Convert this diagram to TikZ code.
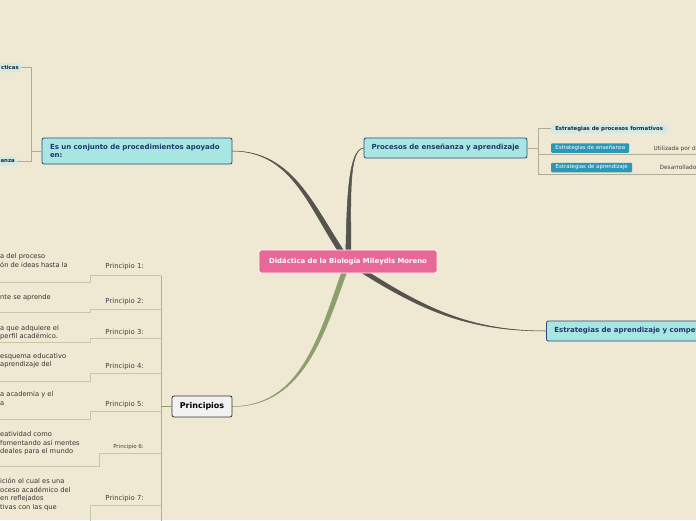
\documentclass[tikz,border=0pt]{standalone}
\usepackage{fontspec}
\setmainfont{DejaVu Sans}
\usepackage{xcolor}
\usetikzlibrary{positioning}

\definecolor{paper}{RGB}{239,232,210}
\definecolor{hubpink}{RGB}{233,104,152}
\definecolor{topicfill}{RGB}{168,230,226}
\definecolor{topicline}{RGB}{44,72,128}
\definecolor{topictext}{RGB}{32,54,110}
\definecolor{darklink}{RGB}{85,84,78}
\definecolor{greenlink}{RGB}{140,158,108}
\definecolor{thinline}{RGB}{178,172,150}
\definecolor{spineline}{RGB}{176,180,140}
\definecolor{bracketline}{RGB}{200,198,168}
\definecolor{tealbox}{RGB}{42,152,182}
\definecolor{palebox}{RGB}{208,234,232}

\begin{document}
\begin{tikzpicture}[
  x=1pt,
  y=1pt,
  every node/.style={font=\fontsize{6.7}{8.5}\selectfont,inner sep=0pt},
  hub/.style={
    draw=white,
    line width=0.9pt,
    fill=hubpink,
    rounded corners=2pt,
    text=white,
    font=\fontsize{6.9}{7}\selectfont\bfseries,
    minimum width=178,
    minimum height=23
  },
  topic/.style={
    draw=topicline,
    line width=0.8pt,
    fill=topicfill,
    rounded corners=2pt,
    text=topictext,
    font=\fontsize{7}{8}\selectfont\bfseries,
    minimum height=20
  },
  princbox/.style={
    draw=black!80,
    line width=0.8pt,
    fill=black!5,
    rounded corners=2pt,
    font=\fontsize{8}{9}\selectfont\bfseries,
    minimum width=60,
    minimum height=21
  },
  tealtag/.style={fill=tealbox,rounded corners=1pt,text=white,
    font=\fontsize{5.4}{6}\selectfont,minimum height=9.5,anchor=west},
  paletag/.style={fill=palebox,rounded corners=1pt,text=black!85,
    font=\fontsize{5.4}{6}\selectfont\bfseries,minimum height=9},
  mainlink/.style={fill=darklink,draw=darklink,line width=0.5pt},
  greenlinkfill/.style={fill=greenlink,draw=greenlink,line width=0.5pt},
  thinlink/.style={draw=thinline,line width=0.8pt},
  bracket/.style={draw=bracketline,line width=0.9pt},
  princlabel/.style={anchor=east,text=black!75,font=\fontsize{6.9}{8}\selectfont},
  princtext/.style={anchor=west,align=left,text=black!80}
]

% Paper and frame.
\useasboundingbox (0,0) rectangle (696,-520);
\fill[paper] (0,0) rectangle (696,-520);
\clip (0,0) rectangle (696,-520);

% Central topic.
\coordinate (hubc) at (348,-261.5);

% Tapered main links (drawn under the nodes).
\fill[mainlink] ([xshift=-3]hubc) to[out=125,in=0] (137+95,-151)
  to[out=0,in=125] ([xshift=3]hubc) -- cycle;
\fill[mainlink] ([xshift=-2.5]hubc) to[out=88,in=180,in looseness=0.4] (364,-148)
  to[out=180,in=88,out looseness=0.4] ([xshift=2.5]hubc) -- cycle;
\fill[mainlink] ([yshift=2.5]hubc) to[out=-33,in=180] (546,-331)
  to[out=180,in=-33] ([yshift=-2.5]hubc) -- cycle;
\fill[greenlinkfill] ([xshift=-2.5]hubc) to[out=-110,in=0] (232,-406.5)
  to[out=0,in=-110] ([xshift=2.5]hubc) -- cycle;

\node[hub] (hub) at (hubc) {Didáctica de la Biología Mileydis Moreno};

% First level topics.
\node[topic,minimum width=190,minimum height=26,text width=174,align=left]
  (conj) at (137,-151) {Es un conjunto de procedimientos apoyado\\en:};
\node[topic,minimum width=163] (proc) at (445.5,-148)
  {Procesos de enseñanza y aprendizaje};
\node[topic,anchor=west,inner xsep=8pt] (comp) at (546,-331)
  {Estrategias de aprendizaje y compet};
\node[princbox] (princ) at (202,-406.5) {Principios};

% Children of the left topic.
\node[paletag,anchor=east,text width=36,align=right,inner xsep=2pt]
  (cticas) at (21,-67.5) {cticas};
\node[paletag,anchor=east,text width=32,align=right,inner xsep=2pt]
  (anza) at (17,-161) {anza};
\draw[thinlink] (conj.west) -- (31,-151);
\draw[thinlink] (cticas.east) -- (31,-67.5) -- (31,-161) -- (anza.east);

% Children of the right topic.
\node[paletag,anchor=west,minimum width=116] (formativos) at (551,-128.8)
  {Estrategias de procesos formativos};
\node[tealtag,minimum width=78] (ensenanza) at (551,-148)
  {Estrategias de enseñanza};
\node[tealtag,minimum width=81] (aprendizaje) at (551,-167.5)
  {Estrategias de aprendizaje};
\draw[thinlink] (proc.east) -- (538,-148);
\draw[thinlink] (formativos.west) -- (538,-128.8) -- (538,-174.3);
\draw[thinlink] (538,-154.3) -- (700,-154.3);
\draw[thinlink] (538,-174.3) -- (700,-174.3);
\node[anchor=west,text=black!75,font=\fontsize{5.8}{6}\selectfont]
  (utilizada) at (653.5,-148.5) {Utilizada por d};
\node[anchor=west,text=black!75,font=\fontsize{5.8}{6}\selectfont]
  (desarrollado) at (659.5,-167) {Desarrollado};

% Principles: spine and brackets.
\draw[draw=spineline,line width=1pt] (161,-275.5) -- (161,-525);
\draw[draw=greenlink,line width=0.9pt] (princ.west) -- (161,-406.5);

\draw[bracket] (161,-275.5) -- (90,-275.5) -- (90,-282.5) -- (-5,-282.5);
\draw[bracket] (161,-309.3) -- (90,-309.3) -- (90,-312.7) -- (-5,-312.7);
\draw[bracket] (161,-338.7) -- (90,-338.7) -- (90,-342) -- (-5,-342);
\draw[bracket] (161,-373.3) -- (90,-373.3) -- (90,-381.7) -- (-5,-381.7);
\draw[bracket] (161,-411.7) -- (90,-411.7) -- (90,-419.3) -- (-5,-419.3);
\draw[bracket] (161,-453.3) -- (99.3,-453.3) -- (99.3,-466) -- (-5,-466);
\draw[bracket] (161,-505.7) -- (90,-505.7) -- (90,-530);

\node[princlabel] (pr1) at (144,-266.7) {Principio 1:};
\node[princlabel] (pr2) at (144,-301.7) {Principio 2:};
\node[princlabel] (pr3) at (144,-332.7) {Principio 3:};
\node[princlabel] (pr4) at (144,-366.7) {Principio 4:};
\node[princlabel] (pr5) at (144,-404.3) {Principio 5:};
\node[princlabel,font=\fontsize{5.5}{6}\selectfont] (pr6) at (144,-447) {Principio 6:};
\node[princlabel] (pr7) at (144,-498.3) {Principio 7:};

\node[princtext] (txt1) at (0,-260.6) {a del proceso\\ón de ideas hasta la};
\node[princtext] (txt2) at (0,-297.7) {nte se aprende};
\node[princtext] (txt3) at (0,-332.8) {a que adquiere el\\perfil académico.};
\node[princtext] (txt4) at (0,-360.5) {esquema educativo\\aprendizaje del};
\node[princtext] (txt5) at (0,-398.3) {a academia y el\\a};
\node[princtext] (txt6) at (0,-443.3) {eatividad como\\fomentando así mentes\\deales para el mundo};
\node[princtext] (txt7) at (0,-494.5)
  {ición el cual es una\\oceso académico del\\en reflejados\\tivas con las que};

\end{tikzpicture}
\end{document}
